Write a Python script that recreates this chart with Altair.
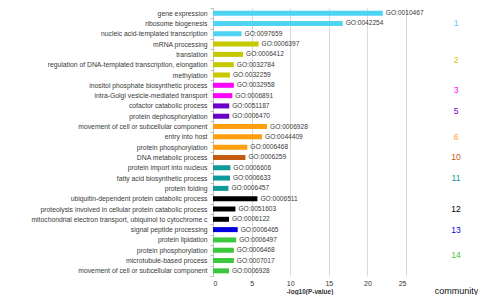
import altair as alt
import pandas as pd

terms = [
    "gene expression", "ribosome biogenesis", "nucleic acid-templated transcription",
    "mRNA processing", "translation", "regulation of DNA-templated transcription, elongation",
    "methylation", "inositol phosphate biosynthetic process", "intra-Golgi vesicle-mediated transport",
    "cofactor catabolic process", "protein dephosphorylation",
    "movement of cell or subcellular component", "entry into host", "protein phosphorylation",
    "DNA metabolic process",
    "protein import into nucleus", "fatty acid biosynthetic process", "protein folding",
    "ubiquitin-dependent protein catabolic process", "proteolysis involved in cellular protein catabolic process",
    "mitochondrial electron transport, ubiquinol to cytochrome c",
    "signal peptide processing",
    "protein lipidation", "protein phosphorylation", "microtubule-based process",
    "movement of cell or subcellular component",
]
go_ids = [
    "GO:0010467", "GO:0042254", "GO:0097659",
    "GO:0006397", "GO:0006412", "GO:0032784", "GO:0032259",
    "GO:0032958", "GO:0006891",
    "GO:0051187", "GO:0006470",
    "GO:0006928", "GO:0044409", "GO:0006468",
    "GO:0006259",
    "GO:0006606", "GO:0006633", "GO:0006457",
    "GO:0006511", "GO:0051603", "GO:0006122",
    "GO:0006465",
    "GO:0006497", "GO:0006468", "GO:0007017", "GO:0006928",
]
values = [
    22.0, 16.8, 3.7,
    5.9, 3.9, 2.7, 2.2,
    2.7, 2.5,
    2.1, 2.1,
    7.0, 6.35, 4.45,
    4.2,
    2.25, 2.2, 2.0,
    5.75, 2.9, 2.07,
    3.2,
    3.0, 2.7, 2.7, 2.07,
]
communities = [
    1, 1, 1,
    2, 2, 2, 2,
    3, 3,
    5, 5,
    6, 6, 6,
    10,
    11, 11, 11,
    12, 12, 12,
    13,
    14, 14, 14, 14,
]
comm_ids = [1, 2, 3, 5, 6, 10, 11, 12, 13, 14]
comm_colors = ["#4FD3F3", "#C6C800", "#FF00FF", "#6A00C8", "#FF9E0F",
               "#C55A11", "#0F9A9A", "#000000", "#0000E0", "#3CC83C"]
x_ticks = [0, 5, 10, 15, 20, 25]

FONT = "Liberation Sans"
n = len(terms)
df = pd.DataFrame({
    "idx": list(range(n)),
    "term": terms,
    "go": go_ids,
    "value": values,
    "community": [str(c) for c in communities],
})

label_arr = "[" + ",".join("'" + t.replace("'", "\\'") + "'" for t in terms) + "]"

color_scale = alt.Scale(domain=[str(c) for c in comm_ids], range=comm_colors)

y_enc = alt.Y("idx:O", sort=list(range(n)),
              scale=alt.Scale(paddingInner=0, paddingOuter=0),
              axis=alt.Axis(title=None, labelExpr=label_arr + "[datum.value]",
                            labelFont=FONT, labelFontSize=6.8, labelColor="#3a3a3a",
                            tickBand="extent", tickSize=3, tickColor="#bfbfbf",
                            domainColor="#bfbfbf", labelPadding=3,
                            minExtent=208, maxExtent=208, labelLimit=220))

x_enc = alt.X("value:Q", scale=alt.Scale(domain=[0, 25], nice=False),
              axis=alt.Axis(values=x_ticks, tickCount=6, labelOverlap=False,
                            title="-log10(P-value)",
                            titleFont=FONT, titleFontSize=6.5, titleFontWeight="bold",
                            titleColor="#333333", titlePadding=2,
                            labelFont=FONT, labelFontSize=7, labelColor="#333333",
                            gridColor="#d9d9d9", domain=False, ticks=False,
                            labelPadding=3))

bars = alt.Chart(df).mark_bar(size=5).encode(
    y=y_enc, x=x_enc,
    color=alt.Color("community:N", scale=color_scale, legend=None),
)
texts = alt.Chart(df).mark_text(align="left", baseline="middle", dx=3,
                                font=FONT, fontSize=6.6, color="#3a3a3a").encode(
    y=y_enc, x=x_enc, text="go:N")

left = alt.layer(bars, texts).properties(width=193, height=268)

cdf = df.groupby("community", as_index=False)["idx"].mean()
cdf["x"] = 0
right = alt.Chart(cdf).mark_text(font=FONT, fontSize=8.5).encode(
    y=alt.Y("idx:Q", scale=alt.Scale(domain=[-0.5, n - 0.5], reverse=True, nice=False, zero=False), axis=None),
    x=alt.X("x:Q", scale=alt.Scale(domain=[-1, 1]),
            axis=alt.Axis(title="community", titleFont=FONT, titleFontSize=9,
                          titleFontWeight="normal", titleColor="#111111",
                          labels=False, ticks=False, domain=False, grid=False,
                          titlePadding=10)),
    text="community:N",
    color=alt.Color("community:N", scale=color_scale, legend=None),
).properties(width=34, height=268)

chart = alt.hconcat(left, right, spacing=10).properties(
    padding={"left": 5, "top": 5, "right": 0, "bottom": 0}
).configure(background="white").configure_view(stroke=None)

chart.save("out.html", embed_options={"renderer": "svg", "actions": False})
